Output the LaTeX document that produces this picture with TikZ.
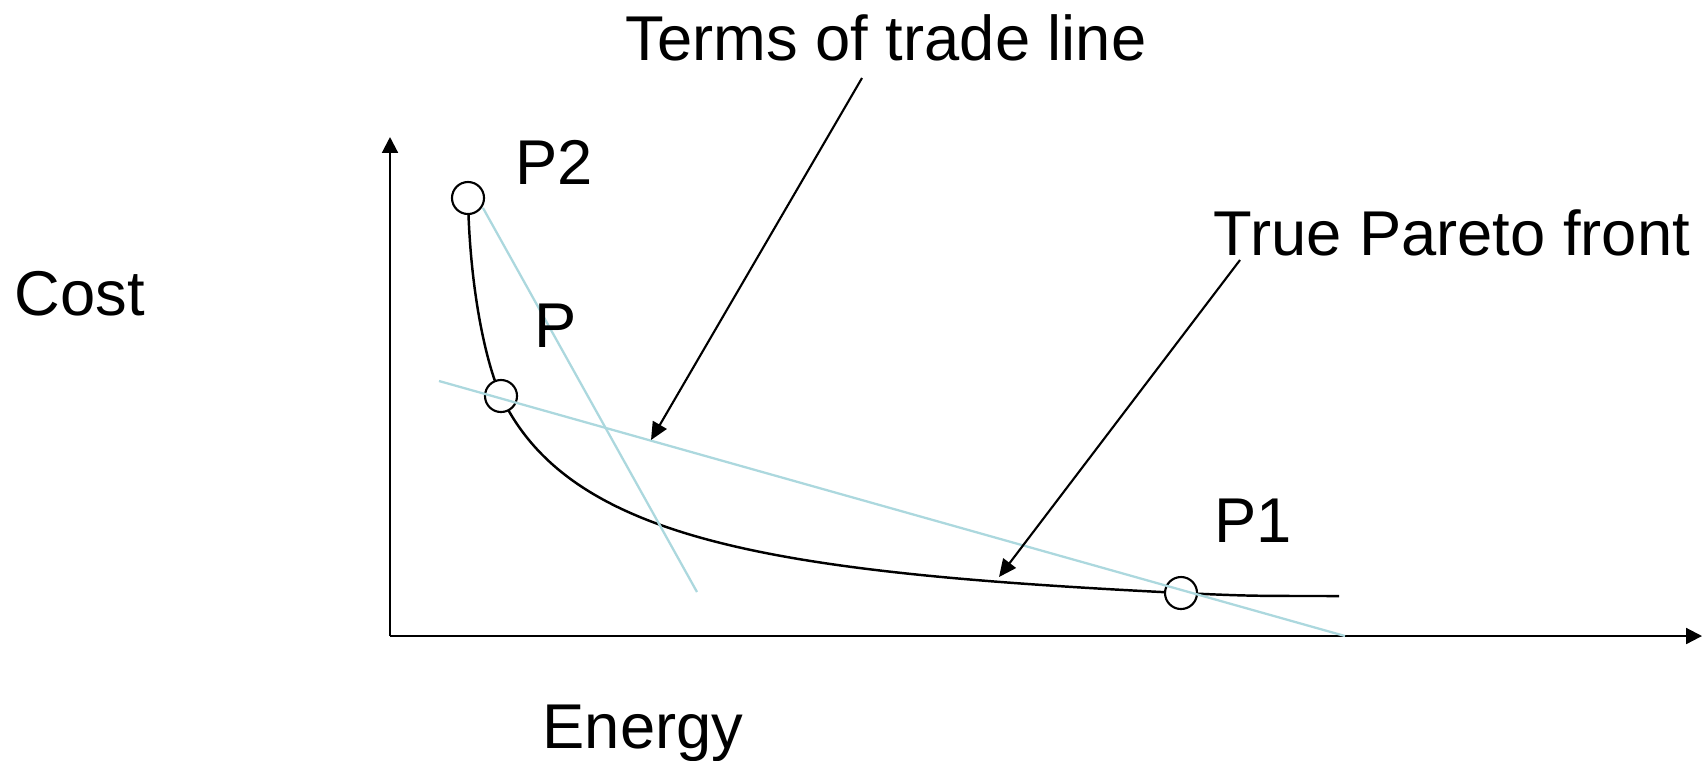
\documentclass[tikz,border=0pt]{standalone}
\usepackage{fontspec}
\setmainfont{Liberation Sans}
\usetikzlibrary{arrows.meta}
\definecolor{tradeblue}{RGB}{172,216,222}

\begin{document}
\begin{tikzpicture}[x=0.01cm,y=-0.01cm,lbl/.style={anchor=base west,inner sep=0pt,font=\fontsize{18}{22}\selectfont},ax/.style={-{Triangle[length=4.5pt,width=4.5pt]},line width=.6pt},callout/.style={-{Triangle[length=5pt,width=4.5pt]},line width=.6pt},pt/.style={circle,draw,fill=white,line width=.6pt,minimum size=0.32cm,inner sep=0pt},trade/.style={draw=tradeblue,line width=.65pt}]
\useasboundingbox (0,0) rectangle (1704,760);

% axes
\coordinate (o) at (390,636);
\coordinate (ytop) at (390,137);
\coordinate (xend) at (1702,636);
\draw[ax](o)--(ytop);\draw[ax](o)--(xend);

% pareto front
\coordinate (c2) at (468,198);
\coordinate (c) at (501,396);
\coordinate (c1) at (1181,593);
\coordinate (cend) at (1339,596);
\draw[line width=.7pt](c2) .. controls (470,300) and (489,371) .. (c) .. controls (571,543) and (781,573) .. (c1) .. controls (1250,596) .. (cend);
\node[pt] (p2) at (c2) {};
\node[pt] (p) at (c) {};
\node[pt] (p1) at (c1) {};

% terms of trade lines
\coordinate (s1) at (483,208);\coordinate (e1) at (697,592);
\coordinate (s2) at (439,381);\coordinate (e2) at (1345,636);
\draw[trade](s1)--(e1);\draw[trade](s2)--(e2);

% labels
\node[lbl] (cost) at (14,315) {Cost};
\node[lbl] (energy) at (542,748) {Energy};
\node[lbl] (p2lbl) at (515,184) {P2};
\node[lbl] (plbl) at (534,347) {P};
\node[lbl] (p1lbl) at (1214,542) {P1};
\node[lbl] (tradelbl) at (625,60) {Terms of trade line};
\node[lbl] (frontlbl) at (1213,255) {True Pareto front};

% callouts
\coordinate (tradetail) at (862,78);\coordinate (tradetip) at (651,440);
\coordinate (fronttail) at (1240,260);\coordinate (fronttip) at (999,577);
\draw[callout](tradetail)--(tradetip);
\draw[callout](fronttail)--(fronttip);
\end{tikzpicture}
\end{document}
